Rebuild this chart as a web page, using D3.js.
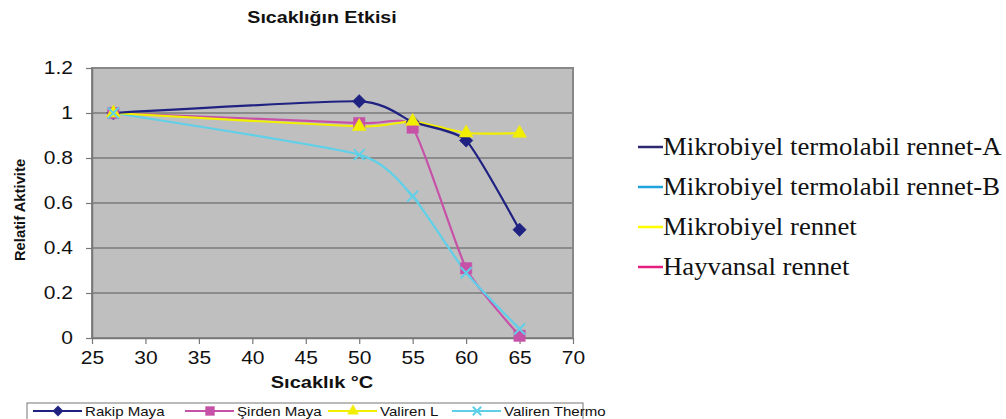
<!DOCTYPE html>
<html>
<head>
<meta charset="utf-8">
<script src="https://cdn.jsdelivr.net/npm/d3@7"></script>
<style>
  body { margin: 0; background: #fff; }
  svg { display: block; }
</style>
</head>
<body>
<svg width="1006" height="419"></svg>
<script>
const svg = d3.select("svg");

// data
const temps = [27, 50, 55, 60, 65];
const rakipMaya = [1.0, 1.052, 0.96, 0.878, 0.481];
const sirdenMaya = [1.0, 0.955, 0.935, 0.31, 0.01];
const valirenL = [1.0, 0.94, 0.963, 0.911, 0.91];
const valirenThermo = [1.0, 0.815, 0.63, 0.29, 0.04];

const xTicks = [25, 30, 35, 40, 45, 50, 55, 60, 65, 70];
const yTicks = [0, 0.2, 0.4, 0.6, 0.8, 1, 1.2];

const sideLegend = ["Mikrobiyel termolabil rennet-A", "Mikrobiyel termolabil rennet-B", "Mikrobiyel rennet", "Hayvansal rennet"];
const sideColors = ["#2b2870", "#1ea3dd", "#ffff00", "#e61f7f"];

const series = [
  { name: "Rakip Maya", values: rakipMaya, color: "#1f2280", shape: "diamond" },
  { name: "Şirden Maya", values: sirdenMaya, color: "#c652a8", shape: "square" },
  { name: "Valiren L", values: valirenL, color: "#f2ee00", shape: "triangle" },
  { name: "Valiren Thermo", values: valirenThermo, color: "#5fd0e8", shape: "x" }
];

const plot = { left: 92, right: 573, top: 68, bottom: 338 };
const sans = "Liberation Sans, Arial, sans-serif";
const stretch = 1.2; // the reference is a bit wider than tall

const x = d3.scaleLinear().domain([25, 70]).range([plot.left, plot.right]);
const y = d3.scaleLinear().domain([0, 1.2]).range([plot.bottom, plot.top]);

// plot background
svg.append("rect")
  .attr("x", plot.left).attr("y", plot.top)
  .attr("width", plot.right - plot.left).attr("height", plot.bottom - plot.top)
  .attr("fill", "#c0bfc0");

// gridlines
svg.append("g").selectAll("line")
  .data(yTicks.filter(d => d > 0 && d < 1.2))
  .join("line")
  .attr("x1", plot.left).attr("x2", plot.right)
  .attr("y1", d => y(d)).attr("y2", d => y(d))
  .attr("stroke", "#7a7a7a").attr("stroke-width", 1.3);

// plot border
svg.append("rect")
  .attr("x", plot.left).attr("y", plot.top)
  .attr("width", plot.right - plot.left).attr("height", plot.bottom - plot.top)
  .attr("fill", "none").attr("stroke", "#888").attr("stroke-width", 2);

// axes
const yAxis = svg.append("g")
  .attr("transform", `translate(${plot.left},0)`)
  .call(d3.axisLeft(y).tickValues(yTicks).tickFormat(d3.format("")).tickSize(6).tickSizeOuter(0));
const xAxis = svg.append("g")
  .attr("transform", `translate(0,${plot.bottom})`)
  .call(d3.axisBottom(x).tickValues(xTicks).tickSize(6).tickSizeOuter(0));

[xAxis, yAxis].forEach(a => {
  a.select(".domain").attr("stroke", "#777").attr("stroke-width", 1.5);
  a.selectAll(".tick line").attr("stroke", "#777").attr("stroke-width", 1.2);
  a.selectAll("text")
    .attr("fill", "#111")
    .attr("font-family", sans)
    .attr("font-size", 17.5)
    .attr("transform", `scale(${stretch},1)`);
});
yAxis.selectAll("text").attr("x", -19 / stretch);
xAxis.selectAll("text").attr("y", 14);

// titles
function label(txt, tx, ty, size, sx, rot) {
  return svg.append("text")
    .attr("transform", `translate(${tx},${ty}) rotate(${rot || 0}) scale(${sx},1)`)
    .attr("text-anchor", "middle")
    .attr("font-family", sans)
    .attr("font-size", size)
    .attr("font-weight", "bold")
    .attr("fill", "#111")
    .text(txt);
}
label("Sıcaklığın Etkisi", 322, 23, 16.5, 1.19);
label("Sıcaklık °C", 322, 388, 16, 1.25);
label("Relatif Aktivite", 25, 210, 14.8, 1, -90);

// series
const line = d3.line()
  .x((d, i) => x(temps[i]))
  .y(d => y(d))
  .curve(d3.curveCardinal.tension(0.45));

const lineOrder = [series[1], series[3], series[2], series[0]];
const markerOrder = [series[0], series[1], series[2], series[3]];

lineOrder.forEach(s => {
  svg.append("path")
    .attr("d", line(s.values))
    .attr("fill", "none")
    .attr("stroke", s.color)
    .attr("stroke-width", 2.2);
});

function marker(g, s, cx, cy, k) {
  k = k || 1;
  let d, rot = 0;
  if (s.shape === "diamond") { d = d3.symbol(d3.symbolSquare, 90 * k)(); rot = 45; }
  else if (s.shape === "square") d = d3.symbol(d3.symbolSquare, 130 * k)();
  else if (s.shape === "triangle") d = d3.symbol(d3.symbolTriangle, 85 * k)();
  else d = d3.symbol(d3.symbolX, 80 * k)();
  g.append("path")
    .attr("d", d)
    .attr("transform", `translate(${cx},${cy}) rotate(${rot})`)
    .attr("fill", s.shape === "x" ? "none" : s.color)
    .attr("stroke", s.color)
    .attr("stroke-width", s.shape === "x" ? 2 : 0.5);
}

markerOrder.forEach(s => {
  const g = svg.append("g");
  s.values.forEach((v, i) => marker(g, s, x(temps[i]), y(v)));
});

// bottom legend (cut off at the bottom edge)
const legG = svg.append("g");
legG.append("rect")
  .attr("x", 27).attr("y", 403)
  .attr("width", 556).attr("height", 30)
  .attr("fill", "#fff").attr("stroke", "#777").attr("stroke-width", 1);

const legX = [33, 185, 328, 452];
series.forEach((s, i) => {
  const lx = legX[i];
  legG.append("line")
    .attr("x1", lx).attr("x2", lx + 49)
    .attr("y1", 411).attr("y2", 411)
    .attr("stroke", s.color).attr("stroke-width", 2);
  marker(legG, s, lx + 25, 411, 0.6);
  legG.append("text")
    .attr("transform", `translate(${lx + 52},416) scale(1.16,1)`)
    .attr("font-family", sans)
    .attr("font-size", 13)
    .attr("fill", "#111")
    .text(s.name);
});

// side legend
const side = svg.append("g");
sideLegend.forEach((name, i) => {
  const cy = 147 + i * 40;
  side.append("line")
    .attr("x1", 638).attr("x2", 663)
    .attr("y1", cy).attr("y2", cy)
    .attr("stroke", sideColors[i]).attr("stroke-width", 2.5);
  side.append("text")
    .attr("transform", `translate(663,${cy + 8}) scale(1.07,1)`)
    .attr("font-family", "Liberation Serif, Times New Roman, serif")
    .attr("font-size", 25)
    .attr("fill", "#111")
    .text(name);
});
</script>
</body>
</html>
